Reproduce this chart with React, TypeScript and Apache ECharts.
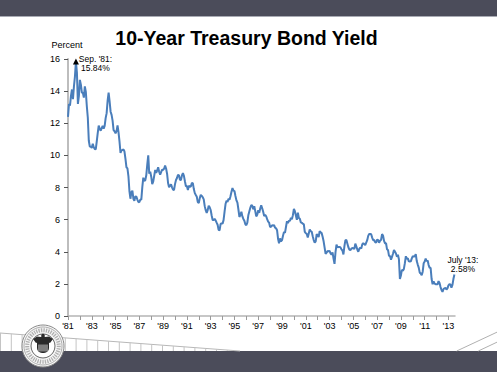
import React, { useEffect, useRef } from "react";
import * as echarts from "echarts";

// Monthly 10-year Treasury yields (percent), Jan 1981 – Jul 2013
const startYear = 1981;
const yields1981to1990 = [
  12.4, 13.2, 13.1, 13.7, 14.1, 13.5, 14.3, 14.9, 15.84, 15.15, 13.2, 13.7,
  14.7, 14.4, 13.9, 13.9, 13.6, 14.3, 13.95, 13.06, 12.34, 10.91, 10.55, 10.54,
  10.46, 10.72, 10.51, 10.4, 10.38, 10.85, 11.38, 11.85, 11.65, 11.54, 11.69, 11.83,
  11.67, 11.84, 12.32, 12.63, 13.41, 13.9, 13.36, 12.72, 12.52, 12.16, 11.57, 11.5,
  11.38, 11.51, 11.86, 11.43, 10.85, 10.16, 10.31, 10.33, 10.37, 10.24, 9.78, 9.26,
  9.19, 8.7, 7.78, 7.3, 7.71, 7.8, 7.3, 7.17, 7.45, 7.43, 7.25, 7.11,
  7.08, 7.25, 7.25, 8.02, 8.61, 8.4, 8.45, 8.76, 9.42, 10.0, 8.86, 8.99,
  8.67, 8.21, 8.37, 8.72, 9.09, 8.92, 9.06, 9.26, 8.98, 8.8, 8.96, 9.11,
  9.09, 9.17, 9.36, 9.18, 8.86, 8.28, 8.02, 8.11, 8.19, 8.01, 7.87, 7.84,
  8.21, 8.47, 8.59, 8.79, 8.76, 8.48, 8.47, 8.75, 8.89, 8.72, 8.39, 8.08,
];
const yields1991to2000 = [
  8.09, 7.85, 8.11, 8.04, 8.07, 8.28, 8.27, 7.9, 7.65, 7.53, 7.42, 7.09,
  7.03, 7.34, 7.54, 7.48, 7.39, 7.26, 6.84, 6.59, 6.42, 6.59, 6.87, 6.77,
  6.6, 6.26, 5.98, 5.97, 6.04, 5.96, 5.81, 5.68, 5.36, 5.33, 5.72, 5.77,
  5.75, 5.97, 6.48, 6.97, 7.18, 7.1, 7.3, 7.24, 7.46, 7.74, 7.96, 7.81,
  7.78, 7.47, 7.2, 7.06, 6.63, 6.17, 6.28, 6.49, 6.2, 6.04, 5.93, 5.71,
  5.65, 5.81, 6.27, 6.51, 6.74, 6.91, 6.87, 6.64, 6.83, 6.53, 6.2, 6.3,
  6.58, 6.42, 6.69, 6.89, 6.71, 6.49, 6.22, 6.3, 6.21, 6.03, 5.88, 5.81,
  5.54, 5.57, 5.65, 5.64, 5.65, 5.5, 5.46, 5.34, 4.81, 4.53, 4.83, 4.65,
  4.72, 5.0, 5.23, 5.18, 5.54, 5.9, 5.79, 5.94, 5.92, 6.11, 6.03, 6.28,
  6.66, 6.52, 6.26, 5.99, 6.44, 6.1, 6.05, 5.83, 5.8, 5.74, 5.72, 5.24,
];
const yields2001to2010 = [
  5.16, 5.1, 4.89, 5.14, 5.39, 5.28, 5.24, 4.97, 4.73, 4.57, 4.65, 5.09,
  5.04, 4.91, 5.28, 5.21, 5.16, 4.93, 4.65, 4.26, 3.87, 3.94, 4.05, 4.03,
  4.05, 3.9, 3.81, 3.96, 3.57, 3.25, 3.98, 4.45, 4.27, 4.29, 4.3, 4.27,
  4.15, 4.08, 3.83, 4.35, 4.72, 4.73, 4.5, 4.28, 4.13, 4.1, 4.19, 4.23,
  4.22, 4.17, 4.5, 4.34, 4.14, 4.0, 4.18, 4.26, 4.2, 4.46, 4.54, 4.47,
  4.42, 4.57, 4.72, 4.99, 5.11, 5.11, 5.09, 4.88, 4.72, 4.73, 4.6, 4.56,
  4.76, 4.72, 4.56, 4.69, 4.75, 5.1, 5.0, 4.67, 4.52, 4.53, 4.15, 4.1,
  3.74, 3.74, 3.51, 3.68, 3.88, 4.1, 4.01, 3.89, 3.69, 3.81, 3.53, 2.3,
  2.52, 2.87, 2.82, 2.93, 3.29, 3.72, 3.56, 3.59, 3.4, 3.39, 3.4, 3.59,
  3.73, 3.69, 3.73, 3.85, 3.42, 3.2, 3.01, 2.7, 2.65, 2.54, 2.76, 3.29,
];
const yields2011to2013 = [
  3.39, 3.58, 3.41, 3.46, 3.17, 3.0, 3.0, 2.3, 1.98, 2.15, 2.01, 1.98,
  1.97, 1.97, 2.17, 2.05, 1.8, 1.62, 1.5, 1.68, 1.72, 1.75, 1.65, 1.72,
  1.91, 1.98, 1.96, 1.76, 1.93, 2.3, 2.58,
];

// Annotations
const annotationDates = [1981 + 8 / 12, 2013 + 6 / 12];
const annotationValues = [15.84, 2.58];
const annotationTexts = ["Sep. '81:\n15.84%", "July '13:\n2.58%"];

const titleText = "10-Year Treasury Bond Yield";
const yAxisTitle = "Percent";

const monthlyYields = [
  ...yields1981to1990,
  ...yields1991to2000,
  ...yields2001to2010,
  ...yields2011to2013,
];

const FONT = "'Liberation Sans', Arial, sans-serif";
const BAND = "#4b4c5a";

function buildDecor() {
  const els: any[] = [];
  // top band
  els.push({ type: "rect", shape: { x: 0, y: 0, width: 497, height: 16 }, style: { fill: BAND }, silent: true });
  els.push({ type: "line", shape: { x1: 0, y1: 16.5, x2: 497, y2: 16.5 }, style: { stroke: "#a9abb4", lineWidth: 1 }, silent: true });
  // bottom band
  els.push({ type: "rect", shape: { x: 0, y: 351, width: 497, height: 21 }, style: { fill: BAND }, silent: true });
  // fence lines bottom-left
  const yAt = (x: number) => 333 + (x / 240) * 18;
  els.push({ type: "line", shape: { x1: 0, y1: 333, x2: 240, y2: 351 }, style: { stroke: "#b8b8b8", lineWidth: 1 }, silent: true });
  for (let x = 0.5; x < 236; x += 10.8) {
    els.push({ type: "line", shape: { x1: x, y1: yAt(x), x2: x, y2: 351 }, style: { stroke: "#c4c4c4", lineWidth: 1 }, silent: true });
  }
  // bottom-right diagonal lines
  els.push({ type: "line", shape: { x1: 456.7, y1: 351, x2: 498, y2: 331.7 }, style: { stroke: "#b0b0b0", lineWidth: 1 }, silent: true });
  els.push({ type: "line", shape: { x1: 478.3, y1: 351, x2: 498, y2: 341.7 }, style: { stroke: "#b0b0b0", lineWidth: 1 }, silent: true });
  // seal
  const cx = 43, cy = 346;
  els.push({ type: "circle", shape: { cx, cy, r: 21 }, style: { fill: "#f6f6f6", stroke: "#8a8a8a", lineWidth: 1 }, silent: true, z: 10 });
  els.push({ type: "circle", shape: { cx, cy, r: 19 }, style: { fill: "none", stroke: "#9a9a9a", lineWidth: 0.8 }, silent: true, z: 10 });
  els.push({ type: "circle", shape: { cx, cy, r: 15.8 }, style: { fill: "none", stroke: "#b0b0b0", lineWidth: 4, lineDash: [1.3, 1.1] }, silent: true, z: 10 });
  els.push({ type: "circle", shape: { cx, cy, r: 12 }, style: { fill: "#ffffff", stroke: "#666", lineWidth: 1 }, silent: true, z: 10 });
  els.push({
    type: "polygon",
    shape: { points: [[33, 339], [37, 336.5], [41, 337], [43, 335], [45, 337], [49, 336.5], [53, 339], [50, 343], [46, 341.5], [40, 341.5], [36, 343]] },
    style: { fill: "#2b2b2b" }, silent: true, z: 11,
  });
  els.push({ type: "circle", shape: { cx, cy: 335.5, r: 1.8 }, style: { fill: "#2b2b2b" }, silent: true, z: 11 });
  els.push({ type: "rect", shape: { x: 37, y: 341, width: 12, height: 12, r: [0, 0, 5, 5] }, style: { fill: "#2b2b2b" }, silent: true, z: 11 });
  for (let x = 39; x <= 47; x += 2) {
    els.push({ type: "line", shape: { x1: x, y1: 344.5, x2: x, y2: 351.5 }, style: { stroke: "#ffffff", lineWidth: 0.8 }, silent: true, z: 12 });
  }
  // titles
  els.push({
    type: "text", x: 246.5, y: 38,
    style: { text: titleText, font: `bold 19.5px ${FONT}`, fill: "#000", align: "center", verticalAlign: "middle" },
    silent: true,
  });
  els.push({
    type: "text", x: 51.5, y: 44.8,
    style: { text: yAxisTitle, font: `9px ${FONT}`, fill: "#000", align: "left", verticalAlign: "middle" },
    silent: true,
  });
  return els;
}

export default function App() {
  const ref = useRef<HTMLDivElement>(null);
  useEffect(() => {
    if (!ref.current) return;
    const chart = echarts.init(ref.current, undefined, { renderer: "svg" });
    const data = monthlyYields.map((v, i) => [startYear + i / 12, v]);
    const offsets = [[19.5, 2], [8.5, -10]];
    const markData = annotationDates.map((d, i) => ({
      coord: [d, annotationValues[i]],
      symbol: i === 0 ? "triangle" : "circle",
      symbolSize: i === 0 ? 6 : 1,
      itemStyle: { color: i === 0 ? "#000" : "rgba(0,0,0,0)" },
      label: {
        show: true,
        formatter: annotationTexts[i],
        position: "inside",
        offset: offsets[i],
        align: "center",
        verticalAlign: "middle",
        fontSize: 8.5,
        lineHeight: 9,
        fontFamily: FONT,
        color: "#000",
      },
    }));
    chart.setOption({
      animation: false,
      backgroundColor: "#ffffff",
      grid: { left: 68, right: 42, top: 59, bottom: 56 },
      xAxis: {
        type: "value",
        min: 1981,
        max: 2013.55,
        interval: 1,
        splitLine: { show: false },
        axisLine: { show: true, lineStyle: { color: "#b5b5b5", width: 1.5 } },
        axisTick: { show: true, length: 4, lineStyle: { color: "#9a9a9a" } },
        axisLabel: {
          color: "#000",
          fontSize: 9,
          fontFamily: FONT,
          margin: 5,
          showMaxLabel: false,
          formatter: (v: number) => {
            const r = Math.round(v);
            if (Math.abs(v - r) > 1e-6) return "";
            if ((r - startYear) % 2 !== 0) return "";
            return "'" + String(r % 100).padStart(2, "0");
          },
        },
      },
      yAxis: {
        type: "value",
        min: 0,
        max: 16,
        interval: 2,
        splitLine: { show: false },
        axisLine: { show: true, lineStyle: { color: "#bdbdbd", width: 2 } },
        axisTick: { show: true, length: 4, lineStyle: { color: "#555" } },
        axisLabel: { color: "#000", fontSize: 9, fontFamily: FONT, margin: 8 },
      },
      graphic: buildDecor(),
      series: [
        {
          type: "line",
          data,
          showSymbol: false,
          lineStyle: { color: "#4a7ebb", width: 2 },
          itemStyle: { color: "#4a7ebb" },
          markPoint: { silent: true, data: markData },
        },
      ],
    });
    return () => chart.dispose();
  }, []);
  return (
    <div
      ref={ref}
      style={{ position: "absolute", left: 0, top: 0, width: 497, height: 372, background: "#fff" }}
    />
  );
}
